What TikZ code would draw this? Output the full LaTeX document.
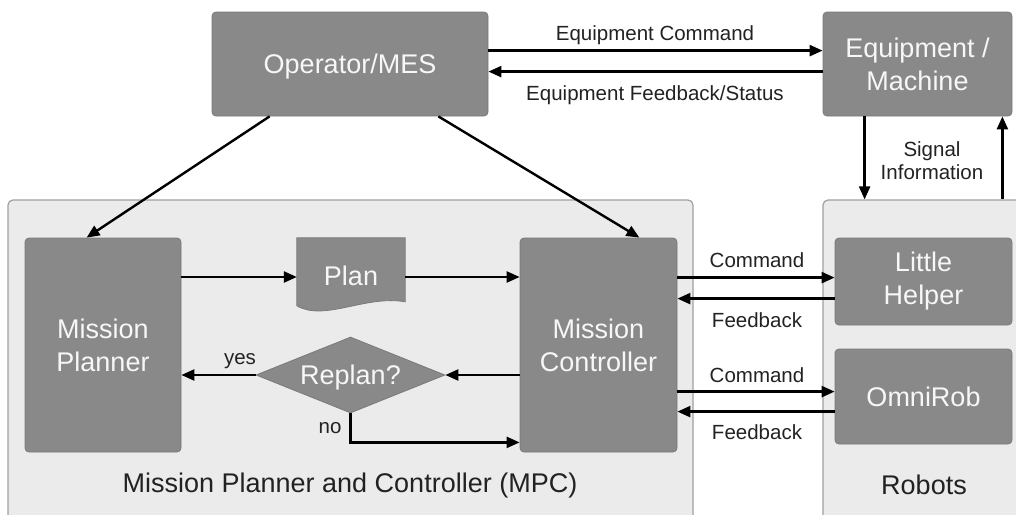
\documentclass[tikz,border=0pt]{standalone}
\usepackage{fontspec}
\setmainfont{Liberation Sans}
\usetikzlibrary{arrows.meta,shapes.geometric,calc}
\definecolor{boxfill}{HTML}{898989}
\definecolor{boxline}{HTML}{7A7A7A}
\definecolor{contfill}{HTML}{EBEBEB}
\definecolor{contline}{HTML}{A0A0A0}
\definecolor{boxtext}{HTML}{F7F7F7}
\definecolor{labtext}{HTML}{222222}
\begin{document}
\begin{tikzpicture}[x=1pt,y=-1pt,
  box/.style={draw=boxline, fill=boxfill, rounded corners=4pt, text=boxtext,
    font=\fontsize{27}{33}\selectfont, align=center, inner sep=0pt, line width=0.8pt},
  cont/.style={draw=contline, fill=contfill, rounded corners=5pt, line width=1.2pt, inner sep=0pt},
  arr/.style={line width=2.4pt, -{Triangle[length=13pt,width=11pt]}},
  lab/.style={text=labtext, font=\fontsize{20.5}{23}\selectfont, align=center, inner sep=0pt},
  clab/.style={text=labtext, font=\fontsize{27}{33}\selectfont, inner sep=0pt},
  bone/.style={text height=19.4pt, text depth=0pt},
  lone/.style={text height=14.7pt, text depth=0pt}]

\useasboundingbox (0,0) rectangle (1016,514);
\clip (0,0) rectangle (1016,514);

% containers
\node[cont, minimum width=685pt, minimum height=330pt] (mpc) at (350.5,365) {};
\node[cont, minimum width=207pt, minimum height=330pt] (rob) at (926.5,365) {};

% boxes
\node[box, bone, minimum width=276pt, minimum height=104pt] (op) at (350,64) {Operator/MES};
\node[box, minimum width=189pt, minimum height=104pt] (eq) at (917.5,64) {Equipment /\\Machine};
\node[box, minimum width=156pt, minimum height=214pt] (mp) at (103,345) {Mission\\Planner};
\node[box, minimum width=157pt, minimum height=214pt] (mc) at (598.5,345) {Mission\\Controller};
\node[box, minimum width=177pt, minimum height=87pt] (lh) at (923.5,281.5) {Little\\Helper};
\node[box, bone, minimum width=177pt, minimum height=95pt] (om) at (923.5,396.5) {OmniRob};

% plan (document shape)
\node[inner sep=0pt, minimum width=108pt, minimum height=78pt] (plan) at (351,277) {};
\filldraw[draw=boxline, fill=boxfill, line width=0.8pt]
  (plan.north west) -- (plan.north east) -- ($(plan.north east)+(0,64)$)
  .. controls ($(plan.north east)+(-40,57)$) and ($(plan.north west)+(28,84)$) ..
  ($(plan.north west)+(0,68)$) -- cycle;
\node[text=boxtext, font=\fontsize{27}{33}\selectfont, bone, inner sep=0pt] (plantext) at (351,276) {Plan};

% decision
\node[diamond, draw=boxline, fill=boxfill, text=boxtext, aspect=2.49,
  minimum width=189pt, minimum height=76pt, inner sep=0pt, line width=0.8pt,
  font=\fontsize{27}{33}\selectfont, bone] (rp) at (350.5,375) {Replan?};

% connectors
\draw[arr] ($(op.south west)+(58,0)$) -- ($(mp.north west)+(62,0)$);
\draw[arr] ($(op.south east)+(-50,0)$) -- ($(mc.north east)+(-38,0)$);
\coordinate (ec) at ($(eq.north west)+(0,39)$);
\coordinate (ef) at ($(eq.north west)+(0,60)$);
\draw[arr] (ec -| op.east) -- (ec);
\draw[arr] (ef) -- (ef -| op.east);
\coordinate (sd) at ($(eq.south west)+(42,0)$);
\draw[arr] (sd) -- (sd |- rob.north);
\coordinate (su) at ($(rob.north west)+(180,0)$);
\draw[arr] (su) -- (su |- eq.south);

\draw[arr] (mp.east |- plan.center) -- (plan.west);
\draw[arr] (plan.east) -- (plan.east -| mc.west);
\draw[arr] (rp.east -| mc.west) -- (rp.east);
\draw[arr] (rp.west) -- (rp.west -| mp.east);
\coordinate (nt) at ($(mc.south west)+(0,-10)$);
\draw[arr] (rp.south) |- (nt);

\coordinate (c1) at ($(lh.north west)+(0,40)$);
\coordinate (f1) at ($(lh.north west)+(0,61)$);
\coordinate (c2) at ($(om.north west)+(0,43)$);
\coordinate (f2) at ($(om.north west)+(0,63)$);
\draw[arr] (c1 -| mc.east) -- (c1);
\draw[arr] (f1) -- (f1 -| mc.east);
\draw[arr] (c2 -| mc.east) -- (c2);
\draw[arr] (f2) -- (f2 -| mc.east);

% labels
\node[lab, lone] (lec) at (655,33) {Equipment Command};
\node[lab, lone] (lef) at (655,93) {Equipment Feedback/Status};
\node[lab] (lsi) at (932,161) {Signal\\Information};
\node[lab, lone] (lc1) at (757,260) {Command};
\node[lab, lone] (lf1) at (757,320) {Feedback};
\node[lab, lone] (lc2) at (757,375) {Command};
\node[lab, lone] (lf2) at (757,432) {Feedback};
\node[lab, lone] (lyes) at (240,357) {yes};
\node[lab, lone] (lno) at (330,426) {no};
\node[clab, bone] (lmpc) at (350,483) {Mission Planner and Controller (MPC)};
\node[clab, bone] (lrob) at (924,485) {Robots};
\end{tikzpicture}
\end{document}
